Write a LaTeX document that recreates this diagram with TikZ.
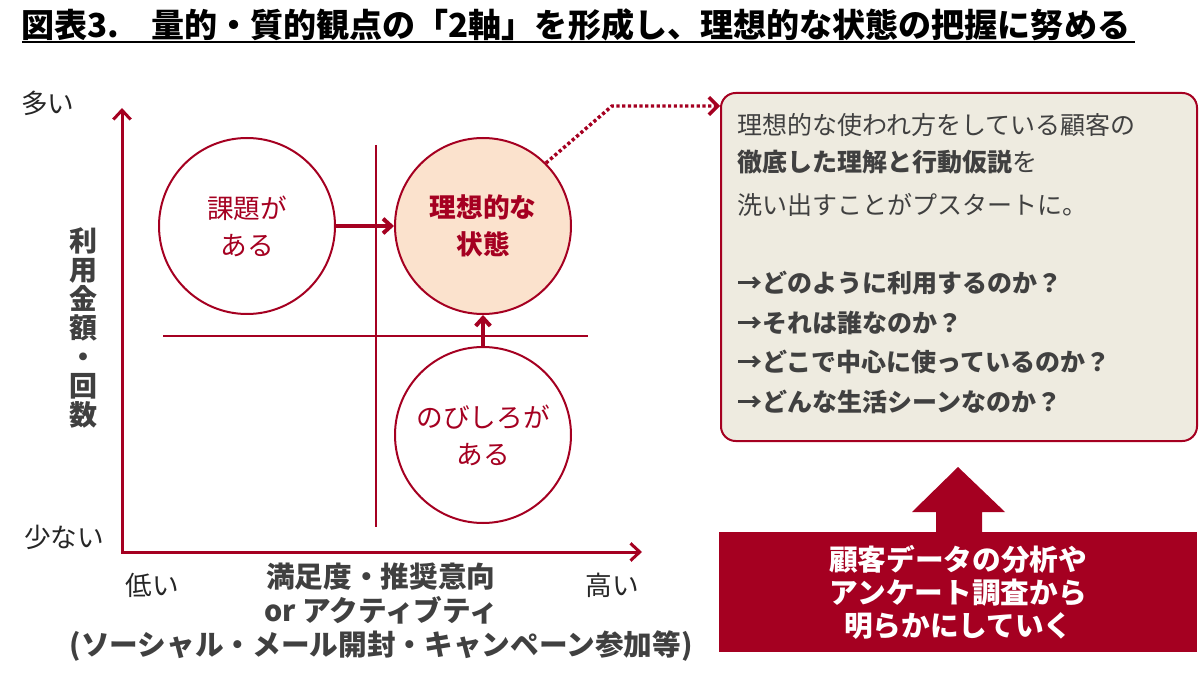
\documentclass[tikz,border=0pt]{standalone}
\usepackage{fontspec}
\setmainfont{Noto Sans CJK JP}
\usetikzlibrary{arrows.meta,calc}
\definecolor{dred}{HTML}{A50021}
\definecolor{tgray}{HTML}{404040}
\definecolor{tblack}{HTML}{262626}
\definecolor{boxfill}{HTML}{EEEBE0}
\definecolor{peach}{HTML}{FBE2CD}
\tikzset{
  axisline/.style={draw=dred, line width=2.25pt, arrows={Straight Barb[length=7pt,width=13pt]-Straight Barb[length=7pt,width=13pt]}},
  gridline/.style={draw=dred, line width=1.1pt},
  bubble/.style={circle, draw=dred, line width=1.5pt, minimum size=132pt, inner sep=0pt, text=dred, align=center, font=\fontsize{20pt}{27.75pt}\selectfont},
  thickarrow/.style={draw=dred, line width=3pt, -{Straight Barb[length=6pt,width=11pt]}},
  dotarrow/.style={draw=dred, line width=2.6pt, dash pattern=on 2.4pt off 1.9pt, -{Straight Barb[length=6.5pt,width=13pt]}},
  infotxt/.style={anchor=west, inner sep=0pt, text=tgray, font=\fontsize{18.75pt}{22pt}\selectfont},
  axlabel/.style={inner sep=0pt, text=tblack, font=\fontsize{20pt}{22pt}\selectfont},
}
\begin{document}
\begin{tikzpicture}[x=0.75pt,y=-0.75pt]
\useasboundingbox (0,0) rectangle (1200,677);
% title
\node[anchor=west, inner sep=0pt, text=black, font=\bfseries\fontsize{24.8pt}{26pt}\selectfont] (title) at (21,25) {図表3.\hspace{24pt}量的・質的観点の「2軸」を形成し、理想的な状態の把握に努める};
\draw[line width=2.2pt, black] (22,42) -- (1135,42);
% axes
\coordinate (O) at (122,552);
\coordinate (ytop) at (122,108);
\coordinate (xend) at (642,552);
\draw[axisline] (ytop) -- (O) -- (xend);
% grid
\coordinate (gv1) at (376,145);
\coordinate (gv2) at (376,527);
\coordinate (gh1) at (163,336);
\coordinate (gh2) at (588,336);
\draw[gridline] (gv1) -- (gv2);
\draw[gridline] (gh1) -- (gh2);
% circles
\node[bubble, fill=white] (issue) at (247,226) {課題が\\ある};
\node[bubble, fill=peach, font=\bfseries\fontsize{20pt}{27.75pt}\selectfont] (ideal) at (483,226) {理想的な\\状態};
\node[bubble, fill=white] (growth) at (483,435) {のびしろが\\ある};
\draw[thickarrow] (issue) -- (ideal);
\draw[thickarrow] (growth) -- (ideal);
% axis labels
\node[axlabel] (many) at (48,103) {多い};
\node[axlabel] (few) at (64,537) {少ない};
\node[axlabel] (low) at (152,585) {低い};
\node[axlabel] (high) at (612,585) {高い};
\node[inner sep=0pt, align=center, text=tgray, font=\bfseries\fontsize{21pt}{21.75pt}\selectfont] (ylab) at (83,328) {利\\用\\金\\額\\・\\回\\数};
\node[inner sep=0pt, align=center, text=tgray, font=\bfseries\fontsize{21.5pt}{25.5pt}\selectfont] (xlab) at (381,612) {満足度・推奨意向\\or アクティブティ\\(ソーシャル・メール開封・キャンペーン参加等)};
% info box
\node[draw=dred, line width=1.5pt, fill=boxfill, rounded corners=11pt, minimum width=357pt, minimum height=261pt, anchor=north west] (box) at (720,92) {};
\coordinate (bend) at (612,106);
\draw[dotarrow] (ideal.45) -- (bend) -- (box.west |- bend);
\node[infotxt] (t1) at (737,125) {理想的な使われ方をしている顧客の};
\node[infotxt] (t2) at (737,162) {{\bfseries 徹底した理解と行動仮説}を};
\node[infotxt] (t3) at (737,205) {洗い出すことがプスタートに。};
\node[infotxt, font=\bfseries\fontsize{18.75pt}{22pt}\selectfont] (t4) at (737,283) {→どのように利用するのか？};
\node[infotxt, font=\bfseries\fontsize{18.75pt}{22pt}\selectfont] (t5) at (737,323) {→それは誰なのか？};
\node[infotxt, font=\bfseries\fontsize{18.75pt}{22pt}\selectfont] (t6) at (737,362) {→どこで中心に使っているのか？};
\node[infotxt, font=\bfseries\fontsize{18.75pt}{22pt}\selectfont] (t7) at (737,402) {→どんな生活シーンなのか？};
% bottom arrow and box
\fill[dred] (936,533) -- (936,512) -- (912,512) -- (958,467) -- (1005,512) -- (982,512) -- (982,533) -- cycle;
\node[fill=dred, minimum width=358.5pt, minimum height=90pt, anchor=north west, inner sep=0pt, text=white, align=center, font=\bfseries\fontsize{21.5pt}{24.75pt}\selectfont] (data) at (719,532) {顧客データの分析や\\アンケート調査から\\明らかにしていく};
\end{tikzpicture}
\end{document}
